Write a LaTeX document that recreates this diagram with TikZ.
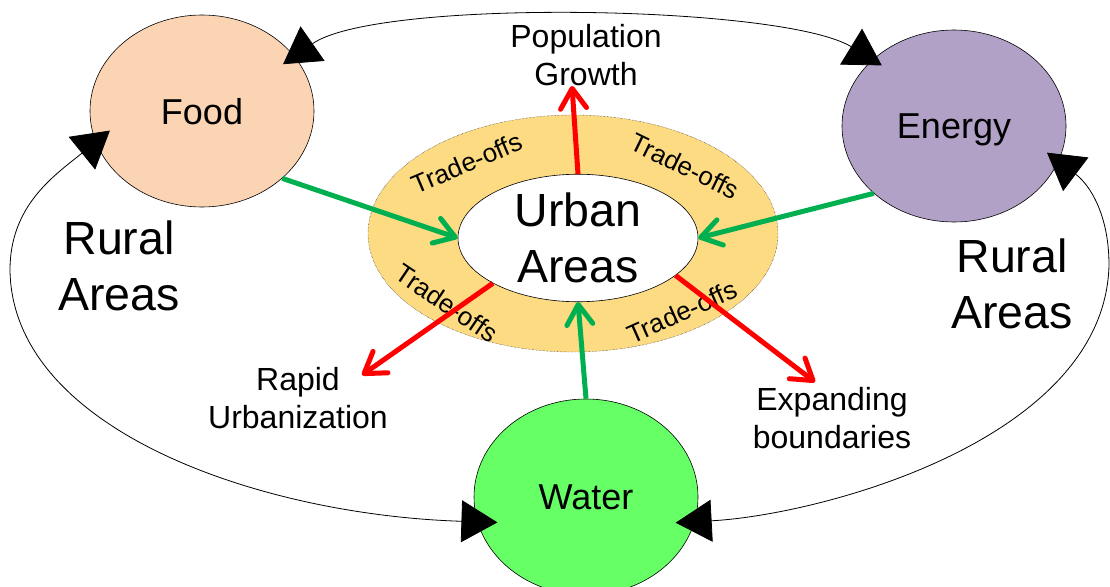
\documentclass[tikz,border=0pt]{standalone}
\usepackage{fontspec}
\setmainfont{Liberation Sans}
\usetikzlibrary{arrows.meta,shapes.geometric,calc}

\definecolor{foodc}{HTML}{FBD4B4}
\definecolor{energyc}{HTML}{B2A1C7}
\definecolor{waterc}{HTML}{66FF66}
\definecolor{tradec}{HTML}{FCDB82}
\definecolor{flowgreen}{HTML}{00B050}
\definecolor{flowred}{HTML}{FF0000}

\begin{document}
\begin{tikzpicture}[x=1pt,y=-1pt,
    res/.style={ellipse,draw=black,line width=0.6pt,minimum width=224pt,minimum height=192pt,inner sep=0pt,text depth=0pt,font=\fontsize{36}{43}\selectfont},
    note/.style={align=center,inner sep=0pt,font=\fontsize{32}{38}\selectfont},
    big/.style={align=center,inner sep=0pt,font=\fontsize{46.5}{56}\selectfont},
    trade/.style={inner sep=0pt,font=\fontsize{26}{31}\selectfont},
    ruralarc/.style={{Triangle[length=36pt,width=42pt]}-{Triangle[length=36pt,width=42pt]},line width=0.8pt},
    supply/.style={-{Straight Barb[length=20pt,width=26pt,round]},line width=5pt,draw=flowgreen},
    pressure/.style={-{Straight Barb[length=20pt,width=26pt,round]},line width=5pt,draw=flowred}]
    \useasboundingbox (0,0) rectangle (1110,586);
    \node[ellipse,draw=black,densely dotted,fill=tradec,minimum width=410pt,minimum height=237pt] (ring) at (573,233.5) {};
    \node[ellipse,draw=black,solid,line width=0.6pt,fill=white,align=center,inner sep=0pt,minimum width=240pt,minimum height=126pt,font=\fontsize{46.5}{56}\selectfont] (urban) at (578,238) {Urban\\Areas};
    \node[trade,rotate=23] (t1) at (467,163) {Trade-offs};
    \node[trade,rotate=-26] (t2) at (685,166) {Trade-offs};
    \node[trade,rotate=-34] (t3) at (447,303) {Trade-offs};
    \node[trade,rotate=24] (t4) at (682,312) {Trade-offs};
    \node[res,fill=foodc] (food) at (202,111) {Food};
    \node[res,fill=energyc] (energy) at (954,126) {Energy};
    \node[res,fill=waterc,minimum height=196pt] (water) at (586,497) {Water};
    \node[big] (rurall) at (119,265.5) {Rural\\Areas};
    \node[big] (ruralr) at (1012,283.5) {Rural\\Areas};
    \node[note] (pop) at (586,55) {Population\\Growth};
    \node[note] (rapid) at (298,398) {Rapid\\Urbanization};
    \node[note] (expand) at (832,418) {Expanding\\boundaries};
    \draw[supply] (food.-40) -- (urban.west);
    \draw[supply] (energy.220) -- (urban.east);
    \draw[supply] (water.north) -- (urban.south);
    \draw[pressure] (urban.north) -- ([xshift=-14pt]pop.south);
    \draw[pressure] (urban.208) -- ([xshift=-26pt,yshift=-8pt]rapid.north east);
    \draw[pressure] (urban.-21) -- ([xshift=-17pt,yshift=5pt]expand.north);
    \draw[ruralarc] ($(food.center)!0.87!(food.30)$) .. controls (378,-2) and (783,5) .. ($(energy.center)!0.9!(energy.140)$);
    \draw[ruralarc] ($(food.center)!0.845!(food.192)$) .. controls (55,175) and (10,205) .. (10,270) .. controls (12,430) and (260,515) .. ($(water.center)!0.83!(water.196)$);
    \draw[ruralarc] ($(energy.center)!0.873!(energy.-16)$) .. controls (1090,185) and (1109,215) .. (1109,265) .. controls (1105,440) and (820,515) .. ($(water.center)!0.84!(water.-16)$);
\end{tikzpicture}
\end{document}
